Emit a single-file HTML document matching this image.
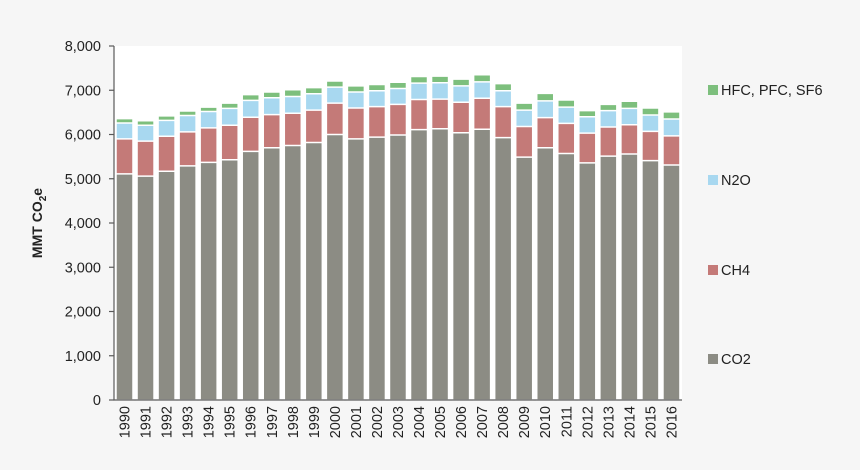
<!DOCTYPE html>
<html><head><meta charset="utf-8"><style>
html,body{margin:0;padding:0;background:#f6f6f6;}
svg{display:block;font-family:"Liberation Sans",Arial,sans-serif;}
</style></head><body>
<svg width="860" height="470" viewBox="0 0 860 470">
<rect x="0" y="0" width="860" height="470" fill="#f6f6f6"/>
<rect x="114" y="46" width="568" height="354" fill="#ffffff"/>
<g transform="translate(0,400) scale(1,-0.04425)" stroke="#ffffff" stroke-width="1.5">
<g id="bars">
<g transform="translate(116,0)"><rect width="17" height="6360" fill="#7dbf7d" vector-effect="non-scaling-stroke"/><rect width="17" height="6260" fill="#a8d8f0" vector-effect="non-scaling-stroke"/><rect width="17" height="5900" fill="#c47a78" vector-effect="non-scaling-stroke"/><rect width="17" height="5110" fill="#8c8c84" vector-effect="non-scaling-stroke"/></g>
<g transform="translate(137.04,0)"><rect width="17" height="6310" fill="#7dbf7d" vector-effect="non-scaling-stroke"/><rect width="17" height="6210" fill="#a8d8f0" vector-effect="non-scaling-stroke"/><rect width="17" height="5850" fill="#c47a78" vector-effect="non-scaling-stroke"/><rect width="17" height="5060" fill="#8c8c84" vector-effect="non-scaling-stroke"/></g>
<g transform="translate(158.07,0)"><rect width="17" height="6420" fill="#7dbf7d" vector-effect="non-scaling-stroke"/><rect width="17" height="6320" fill="#a8d8f0" vector-effect="non-scaling-stroke"/><rect width="17" height="5960" fill="#c47a78" vector-effect="non-scaling-stroke"/><rect width="17" height="5170" fill="#8c8c84" vector-effect="non-scaling-stroke"/></g>
<g transform="translate(179.11,0)"><rect width="17" height="6530" fill="#7dbf7d" vector-effect="non-scaling-stroke"/><rect width="17" height="6430" fill="#a8d8f0" vector-effect="non-scaling-stroke"/><rect width="17" height="6060" fill="#c47a78" vector-effect="non-scaling-stroke"/><rect width="17" height="5290" fill="#8c8c84" vector-effect="non-scaling-stroke"/></g>
<g transform="translate(200.15,0)"><rect width="17" height="6620" fill="#7dbf7d" vector-effect="non-scaling-stroke"/><rect width="17" height="6520" fill="#a8d8f0" vector-effect="non-scaling-stroke"/><rect width="17" height="6150" fill="#c47a78" vector-effect="non-scaling-stroke"/><rect width="17" height="5370" fill="#8c8c84" vector-effect="non-scaling-stroke"/></g>
<g transform="translate(221.19,0)"><rect width="17" height="6710" fill="#7dbf7d" vector-effect="non-scaling-stroke"/><rect width="17" height="6590" fill="#a8d8f0" vector-effect="non-scaling-stroke"/><rect width="17" height="6210" fill="#c47a78" vector-effect="non-scaling-stroke"/><rect width="17" height="5430" fill="#8c8c84" vector-effect="non-scaling-stroke"/></g>
<g transform="translate(242.22,0)"><rect width="17" height="6900" fill="#7dbf7d" vector-effect="non-scaling-stroke"/><rect width="17" height="6770" fill="#a8d8f0" vector-effect="non-scaling-stroke"/><rect width="17" height="6390" fill="#c47a78" vector-effect="non-scaling-stroke"/><rect width="17" height="5620" fill="#8c8c84" vector-effect="non-scaling-stroke"/></g>
<g transform="translate(263.26,0)"><rect width="17" height="6960" fill="#7dbf7d" vector-effect="non-scaling-stroke"/><rect width="17" height="6830" fill="#a8d8f0" vector-effect="non-scaling-stroke"/><rect width="17" height="6450" fill="#c47a78" vector-effect="non-scaling-stroke"/><rect width="17" height="5700" fill="#8c8c84" vector-effect="non-scaling-stroke"/></g>
<g transform="translate(284.3,0)"><rect width="17" height="7010" fill="#7dbf7d" vector-effect="non-scaling-stroke"/><rect width="17" height="6860" fill="#a8d8f0" vector-effect="non-scaling-stroke"/><rect width="17" height="6480" fill="#c47a78" vector-effect="non-scaling-stroke"/><rect width="17" height="5750" fill="#8c8c84" vector-effect="non-scaling-stroke"/></g>
<g transform="translate(305.33,0)"><rect width="17" height="7060" fill="#7dbf7d" vector-effect="non-scaling-stroke"/><rect width="17" height="6920" fill="#a8d8f0" vector-effect="non-scaling-stroke"/><rect width="17" height="6550" fill="#c47a78" vector-effect="non-scaling-stroke"/><rect width="17" height="5820" fill="#8c8c84" vector-effect="non-scaling-stroke"/></g>
<g transform="translate(326.37,0)"><rect width="17" height="7210" fill="#7dbf7d" vector-effect="non-scaling-stroke"/><rect width="17" height="7070" fill="#a8d8f0" vector-effect="non-scaling-stroke"/><rect width="17" height="6710" fill="#c47a78" vector-effect="non-scaling-stroke"/><rect width="17" height="6000" fill="#8c8c84" vector-effect="non-scaling-stroke"/></g>
<g transform="translate(347.41,0)"><rect width="17" height="7100" fill="#7dbf7d" vector-effect="non-scaling-stroke"/><rect width="17" height="6960" fill="#a8d8f0" vector-effect="non-scaling-stroke"/><rect width="17" height="6600" fill="#c47a78" vector-effect="non-scaling-stroke"/><rect width="17" height="5900" fill="#8c8c84" vector-effect="non-scaling-stroke"/></g>
<g transform="translate(368.44,0)"><rect width="17" height="7130" fill="#7dbf7d" vector-effect="non-scaling-stroke"/><rect width="17" height="6990" fill="#a8d8f0" vector-effect="non-scaling-stroke"/><rect width="17" height="6630" fill="#c47a78" vector-effect="non-scaling-stroke"/><rect width="17" height="5940" fill="#8c8c84" vector-effect="non-scaling-stroke"/></g>
<g transform="translate(389.48,0)"><rect width="17" height="7180" fill="#7dbf7d" vector-effect="non-scaling-stroke"/><rect width="17" height="7040" fill="#a8d8f0" vector-effect="non-scaling-stroke"/><rect width="17" height="6680" fill="#c47a78" vector-effect="non-scaling-stroke"/><rect width="17" height="5990" fill="#8c8c84" vector-effect="non-scaling-stroke"/></g>
<g transform="translate(410.52,0)"><rect width="17" height="7310" fill="#7dbf7d" vector-effect="non-scaling-stroke"/><rect width="17" height="7160" fill="#a8d8f0" vector-effect="non-scaling-stroke"/><rect width="17" height="6790" fill="#c47a78" vector-effect="non-scaling-stroke"/><rect width="17" height="6110" fill="#8c8c84" vector-effect="non-scaling-stroke"/></g>
<g transform="translate(431.56,0)"><rect width="17" height="7320" fill="#7dbf7d" vector-effect="non-scaling-stroke"/><rect width="17" height="7170" fill="#a8d8f0" vector-effect="non-scaling-stroke"/><rect width="17" height="6800" fill="#c47a78" vector-effect="non-scaling-stroke"/><rect width="17" height="6130" fill="#8c8c84" vector-effect="non-scaling-stroke"/></g>
<g transform="translate(452.59,0)"><rect width="17" height="7250" fill="#7dbf7d" vector-effect="non-scaling-stroke"/><rect width="17" height="7100" fill="#a8d8f0" vector-effect="non-scaling-stroke"/><rect width="17" height="6730" fill="#c47a78" vector-effect="non-scaling-stroke"/><rect width="17" height="6040" fill="#8c8c84" vector-effect="non-scaling-stroke"/></g>
<g transform="translate(473.63,0)"><rect width="17" height="7350" fill="#7dbf7d" vector-effect="non-scaling-stroke"/><rect width="17" height="7190" fill="#a8d8f0" vector-effect="non-scaling-stroke"/><rect width="17" height="6820" fill="#c47a78" vector-effect="non-scaling-stroke"/><rect width="17" height="6120" fill="#8c8c84" vector-effect="non-scaling-stroke"/></g>
<g transform="translate(494.67,0)"><rect width="17" height="7150" fill="#7dbf7d" vector-effect="non-scaling-stroke"/><rect width="17" height="6990" fill="#a8d8f0" vector-effect="non-scaling-stroke"/><rect width="17" height="6630" fill="#c47a78" vector-effect="non-scaling-stroke"/><rect width="17" height="5930" fill="#8c8c84" vector-effect="non-scaling-stroke"/></g>
<g transform="translate(515.7,0)"><rect width="17" height="6710" fill="#7dbf7d" vector-effect="non-scaling-stroke"/><rect width="17" height="6550" fill="#a8d8f0" vector-effect="non-scaling-stroke"/><rect width="17" height="6180" fill="#c47a78" vector-effect="non-scaling-stroke"/><rect width="17" height="5490" fill="#8c8c84" vector-effect="non-scaling-stroke"/></g>
<g transform="translate(536.74,0)"><rect width="17" height="6930" fill="#7dbf7d" vector-effect="non-scaling-stroke"/><rect width="17" height="6760" fill="#a8d8f0" vector-effect="non-scaling-stroke"/><rect width="17" height="6380" fill="#c47a78" vector-effect="non-scaling-stroke"/><rect width="17" height="5700" fill="#8c8c84" vector-effect="non-scaling-stroke"/></g>
<g transform="translate(557.78,0)"><rect width="17" height="6780" fill="#7dbf7d" vector-effect="non-scaling-stroke"/><rect width="17" height="6620" fill="#a8d8f0" vector-effect="non-scaling-stroke"/><rect width="17" height="6250" fill="#c47a78" vector-effect="non-scaling-stroke"/><rect width="17" height="5570" fill="#8c8c84" vector-effect="non-scaling-stroke"/></g>
<g transform="translate(578.81,0)"><rect width="17" height="6540" fill="#7dbf7d" vector-effect="non-scaling-stroke"/><rect width="17" height="6400" fill="#a8d8f0" vector-effect="non-scaling-stroke"/><rect width="17" height="6030" fill="#c47a78" vector-effect="non-scaling-stroke"/><rect width="17" height="5360" fill="#8c8c84" vector-effect="non-scaling-stroke"/></g>
<g transform="translate(599.85,0)"><rect width="17" height="6680" fill="#7dbf7d" vector-effect="non-scaling-stroke"/><rect width="17" height="6540" fill="#a8d8f0" vector-effect="non-scaling-stroke"/><rect width="17" height="6170" fill="#c47a78" vector-effect="non-scaling-stroke"/><rect width="17" height="5510" fill="#8c8c84" vector-effect="non-scaling-stroke"/></g>
<g transform="translate(620.89,0)"><rect width="17" height="6750" fill="#7dbf7d" vector-effect="non-scaling-stroke"/><rect width="17" height="6590" fill="#a8d8f0" vector-effect="non-scaling-stroke"/><rect width="17" height="6220" fill="#c47a78" vector-effect="non-scaling-stroke"/><rect width="17" height="5560" fill="#8c8c84" vector-effect="non-scaling-stroke"/></g>
<g transform="translate(641.93,0)"><rect width="17" height="6600" fill="#7dbf7d" vector-effect="non-scaling-stroke"/><rect width="17" height="6440" fill="#a8d8f0" vector-effect="non-scaling-stroke"/><rect width="17" height="6070" fill="#c47a78" vector-effect="non-scaling-stroke"/><rect width="17" height="5410" fill="#8c8c84" vector-effect="non-scaling-stroke"/></g>
<g transform="translate(662.96,0)"><rect width="17" height="6510" fill="#7dbf7d" vector-effect="non-scaling-stroke"/><rect width="17" height="6350" fill="#a8d8f0" vector-effect="non-scaling-stroke"/><rect width="17" height="5970" fill="#c47a78" vector-effect="non-scaling-stroke"/><rect width="17" height="5310" fill="#8c8c84" vector-effect="non-scaling-stroke"/></g>
</g>
</g>
<!-- axes -->
<g stroke="#595959" stroke-width="1.2">
<line x1="114" y1="46" x2="114" y2="400.5"/>
<line x1="113.5" y1="400" x2="682" y2="400"/>
<line x1="109" y1="46" x2="114" y2="46"/>
<line x1="109" y1="90.25" x2="114" y2="90.25"/>
<line x1="109" y1="134.5" x2="114" y2="134.5"/>
<line x1="109" y1="178.75" x2="114" y2="178.75"/>
<line x1="109" y1="223" x2="114" y2="223"/>
<line x1="109" y1="267.25" x2="114" y2="267.25"/>
<line x1="109" y1="311.5" x2="114" y2="311.5"/>
<line x1="109" y1="355.75" x2="114" y2="355.75"/>
<line x1="109" y1="400" x2="114" y2="400"/>
</g>
<g font-size="14.5" fill="#222" text-anchor="end">
<text x="101" y="51">8,000</text>
<text x="101" y="95.25">7,000</text>
<text x="101" y="139.5">6,000</text>
<text x="101" y="183.75">5,000</text>
<text x="101" y="228">4,000</text>
<text x="101" y="272.25">3,000</text>
<text x="101" y="316.5">2,000</text>
<text x="101" y="360.75">1,000</text>
<text x="101" y="405">0</text>
</g>
<text transform="translate(42,223) rotate(-90)" text-anchor="middle" font-size="14" font-weight="bold" fill="#222">MMT CO<tspan font-size="10" dy="4">2</tspan><tspan dy="-4">e</tspan></text>
<g font-size="14.5" fill="#222" text-anchor="end">
<text transform="translate(129.5,406) rotate(-90)">1990</text>
<text transform="translate(150.5,406) rotate(-90)">1991</text>
<text transform="translate(171.6,406) rotate(-90)">1992</text>
<text transform="translate(192.6,406) rotate(-90)">1993</text>
<text transform="translate(213.7,406) rotate(-90)">1994</text>
<text transform="translate(234.7,406) rotate(-90)">1995</text>
<text transform="translate(255.7,406) rotate(-90)">1996</text>
<text transform="translate(276.8,406) rotate(-90)">1997</text>
<text transform="translate(297.8,406) rotate(-90)">1998</text>
<text transform="translate(318.8,406) rotate(-90)">1999</text>
<text transform="translate(339.9,406) rotate(-90)">2000</text>
<text transform="translate(360.9,406) rotate(-90)">2001</text>
<text transform="translate(381.9,406) rotate(-90)">2002</text>
<text transform="translate(403,406) rotate(-90)">2003</text>
<text transform="translate(424,406) rotate(-90)">2004</text>
<text transform="translate(445.1,406) rotate(-90)">2005</text>
<text transform="translate(466.1,406) rotate(-90)">2006</text>
<text transform="translate(487.1,406) rotate(-90)">2007</text>
<text transform="translate(508.2,406) rotate(-90)">2008</text>
<text transform="translate(529.2,406) rotate(-90)">2009</text>
<text transform="translate(550.2,406) rotate(-90)">2010</text>
<text transform="translate(571.3,406) rotate(-90)">2011</text>
<text transform="translate(592.3,406) rotate(-90)">2012</text>
<text transform="translate(613.3,406) rotate(-90)">2013</text>
<text transform="translate(634.4,406) rotate(-90)">2014</text>
<text transform="translate(655.4,406) rotate(-90)">2015</text>
<text transform="translate(676.5,406) rotate(-90)">2016</text>
</g>
<!-- legend -->
<g font-size="14.5" fill="#222">
<rect x="708" y="85" width="10" height="10" fill="#7dbf7d"/><text x="721" y="95">HFC, PFC, SF6</text>
<rect x="708" y="175" width="10" height="10" fill="#a8d8f0"/><text x="721" y="185">N2O</text>
<rect x="708" y="265" width="10" height="10" fill="#c47a78"/><text x="721" y="275">CH4</text>
<rect x="708" y="354" width="10" height="10" fill="#8c8c84"/><text x="721" y="364">CO2</text>
</g>
</svg>
</body></html>
